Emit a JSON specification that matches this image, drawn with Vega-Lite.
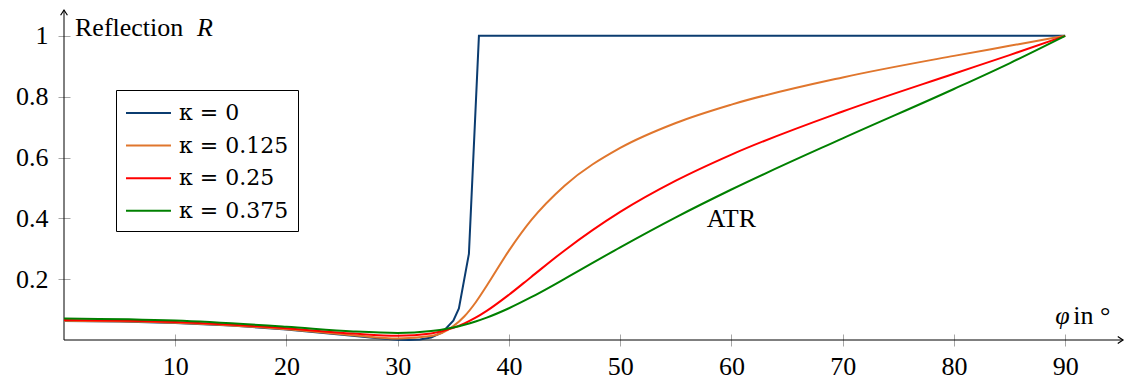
{
  "$schema": "https://vega.github.io/schema/vega-lite/v6.json",
  "width": 1059,
  "height": 330,
  "autosize": {"type": "none"},
  "padding": {"left": 64, "top": 10, "right": 3, "bottom": 43},
  "background": "white",
  "config": {
    "view": {"stroke": null},
    "font": "Liberation Serif"
  },
  "datasets": {
    "curves": [
      {"phi": 0, "R": 0.0625, "k": "κ = 0"},
      {"phi": 5, "R": 0.0609, "k": "κ = 0"},
      {"phi": 10, "R": 0.056, "k": "κ = 0"},
      {"phi": 15, "R": 0.0474, "k": "κ = 0"},
      {"phi": 20, "R": 0.0346, "k": "κ = 0"},
      {"phi": 25, "R": 0.0176, "k": "κ = 0"},
      {"phi": 28, "R": 0.0065, "k": "κ = 0"},
      {"phi": 30, "R": 0.001, "k": "κ = 0"},
      {"phi": 31, "R": 0.0, "k": "κ = 0"},
      {"phi": 32, "R": 0.0017, "k": "κ = 0"},
      {"phi": 33, "R": 0.0082, "k": "κ = 0"},
      {"phi": 34, "R": 0.0246, "k": "κ = 0"},
      {"phi": 35, "R": 0.0636, "k": "κ = 0"},
      {"phi": 35.5, "R": 0.1035, "k": "κ = 0"},
      {"phi": 36.4, "R": 0.2834, "k": "κ = 0"},
      {"phi": 37.3, "R": 1.0, "k": "κ = 0"},
      {"phi": 90, "R": 1.0, "k": "κ = 0"},

      {"phi": 0, "R": 0.0634, "k": "κ = 0.125"},
      {"phi": 10, "R": 0.0569, "k": "κ = 0.125"},
      {"phi": 20, "R": 0.0357, "k": "κ = 0.125"},
      {"phi": 26, "R": 0.0158, "k": "κ = 0.125"},
      {"phi": 30, "R": 0.0051, "k": "κ = 0.125"},
      {"phi": 33, "R": 0.0129, "k": "κ = 0.125"},
      {"phi": 35, "R": 0.0455, "k": "κ = 0.125"},
      {"phi": 36, "R": 0.078, "k": "κ = 0.125"},
      {"phi": 37, "R": 0.1233, "k": "κ = 0.125"},
      {"phi": 38, "R": 0.1782, "k": "κ = 0.125"},
      {"phi": 40, "R": 0.2938, "k": "κ = 0.125"},
      {"phi": 42, "R": 0.3938, "k": "κ = 0.125"},
      {"phi": 45, "R": 0.5071, "k": "κ = 0.125"},
      {"phi": 50, "R": 0.6315, "k": "κ = 0.125"},
      {"phi": 55, "R": 0.7136, "k": "κ = 0.125"},
      {"phi": 60, "R": 0.774, "k": "κ = 0.125"},
      {"phi": 70, "R": 0.8634, "k": "κ = 0.125"},
      {"phi": 80, "R": 0.9342, "k": "κ = 0.125"},
      {"phi": 85, "R": 0.9671, "k": "κ = 0.125"},
      {"phi": 90, "R": 1.0, "k": "κ = 0.125"},

      {"phi": 0, "R": 0.0661, "k": "κ = 0.25"},
      {"phi": 10, "R": 0.0595, "k": "κ = 0.25"},
      {"phi": 20, "R": 0.0387, "k": "κ = 0.25"},
      {"phi": 26, "R": 0.021, "k": "κ = 0.25"},
      {"phi": 30, "R": 0.0138, "k": "κ = 0.25"},
      {"phi": 33, "R": 0.0213, "k": "κ = 0.25"},
      {"phi": 35, "R": 0.0397, "k": "κ = 0.25"},
      {"phi": 36, "R": 0.0545, "k": "κ = 0.25"},
      {"phi": 37, "R": 0.0732, "k": "κ = 0.25"},
      {"phi": 38, "R": 0.0956, "k": "κ = 0.25"},
      {"phi": 40, "R": 0.1488, "k": "κ = 0.25"},
      {"phi": 42, "R": 0.2074, "k": "κ = 0.25"},
      {"phi": 45, "R": 0.2945, "k": "κ = 0.25"},
      {"phi": 50, "R": 0.4211, "k": "κ = 0.25"},
      {"phi": 55, "R": 0.5239, "k": "κ = 0.25"},
      {"phi": 60, "R": 0.6097, "k": "κ = 0.25"},
      {"phi": 70, "R": 0.7513, "k": "κ = 0.25"},
      {"phi": 80, "R": 0.8755, "k": "κ = 0.25"},
      {"phi": 85, "R": 0.9367, "k": "κ = 0.25"},
      {"phi": 90, "R": 1.0, "k": "κ = 0.25"},

      {"phi": 0, "R": 0.0707, "k": "κ = 0.375"},
      {"phi": 10, "R": 0.0639, "k": "κ = 0.375"},
      {"phi": 20, "R": 0.0435, "k": "κ = 0.375"},
      {"phi": 26, "R": 0.0282, "k": "κ = 0.375"},
      {"phi": 30, "R": 0.0234, "k": "κ = 0.375"},
      {"phi": 33, "R": 0.0295, "k": "κ = 0.375"},
      {"phi": 35, "R": 0.0414, "k": "κ = 0.375"},
      {"phi": 36, "R": 0.0502, "k": "κ = 0.375"},
      {"phi": 37, "R": 0.061, "k": "κ = 0.375"},
      {"phi": 38, "R": 0.0737, "k": "κ = 0.375"},
      {"phi": 40, "R": 0.1045, "k": "κ = 0.375"},
      {"phi": 42, "R": 0.1407, "k": "κ = 0.375"},
      {"phi": 45, "R": 0.201, "k": "κ = 0.375"},
      {"phi": 50, "R": 0.3047, "k": "κ = 0.375"},
      {"phi": 55, "R": 0.4033, "k": "κ = 0.375"},
      {"phi": 60, "R": 0.4948, "k": "κ = 0.375"},
      {"phi": 70, "R": 0.663, "k": "κ = 0.375"},
      {"phi": 80, "R": 0.8253, "k": "κ = 0.375"},
      {"phi": 85, "R": 0.9098, "k": "κ = 0.375"},
      {"phi": 90, "R": 1.0, "k": "κ = 0.375"}
    ]
  },
  "layer": [
    {
      "data": {"values": [{}]},
      "mark": {"type": "rule", "color": "black", "strokeWidth": 1},
      "encoding": {
        "y": {"datum": 0, "type": "quantitative", "scale": {"domain": [0, 1.085], "nice": false, "zero": false}}
      }
    },
    {
      "data": {"values": [{}]},
      "mark": {"type": "rule", "color": "black", "strokeWidth": 1},
      "encoding": {
        "x": {"datum": 0, "type": "quantitative", "scale": {"domain": [0, 95.2], "nice": false, "zero": false}}
      }
    },
    {
      "data": {"name": "curves"},
      "transform": [{"filter": "datum.k === 'κ = 0'"}],
      "mark": {"type": "line", "strokeWidth": 2, "interpolate": "linear", "clip": false},
      "encoding": {
        "x": {
          "field": "phi", "type": "quantitative",
          "scale": {"domain": [0, 95.2], "nice": false, "zero": false},
          "axis": {
            "title": null, "values": [10, 20, 30, 40, 50, 60, 70, 80, 90],
            "offset": -6, "tickSize": 12, "tickColor": "#a6a6a6", "tickWidth": 1,
            "domain": false, "grid": false,
            "labelFont": "Liberation Serif", "labelFontSize": 26, "labelColor": "black",
            "labelPadding": 7, "labelFlush": false
          }
        },
        "y": {
          "field": "R", "type": "quantitative",
          "scale": {"domain": [0, 1.085], "nice": false, "zero": false},
          "axis": {
            "title": null, "values": [0.2, 0.4, 0.6, 0.8, 1], "format": "~g",
            "offset": -6, "tickSize": 12, "tickColor": "#a6a6a6", "tickWidth": 1,
            "domain": false, "grid": false,
            "labelFont": "Liberation Serif", "labelFontSize": 26, "labelColor": "black",
            "labelPadding": 10, "labelFlush": false
          }
        },
        "color": {
          "field": "k", "type": "nominal",
          "scale": {
            "domain": ["κ = 0", "κ = 0.125", "κ = 0.25", "κ = 0.375"],
            "range": ["#0b3c70", "#e0762d", "#ff0000", "#008000"]
          },
          "legend": {
            "orient": "none", "legendX": 52, "legendY": 80,
            "title": null, "strokeColor": "black", "fillColor": "white",
            "padding": 9, "symbolType": "M -1 0 L 2.46 0", "symbolSize": 676,
            "symbolStrokeWidth": 2, "symbolFillColor": "transparent",
            "labelFont": "DejaVu Serif", "labelFontSize": 22, "labelColor": "black",
            "labelOffset": 26, "rowPadding": 7.6, "labelLimit": 400, "cornerRadius": 0
          }
        }
      }
    },
    {
      "data": {"name": "curves"},
      "transform": [{"filter": "datum.k !== 'κ = 0'"}],
      "mark": {"type": "line", "strokeWidth": 2, "interpolate": "monotone", "clip": false},
      "encoding": {
        "x": {"field": "phi", "type": "quantitative", "scale": {"domain": [0, 95.2], "nice": false, "zero": false}},
        "y": {"field": "R", "type": "quantitative", "scale": {"domain": [0, 1.085], "nice": false, "zero": false}},
        "color": {"field": "k", "type": "nominal"}
      }
    },
    {
      "data": {"values": [{}]},
      "mark": {"type": "point", "shape": "M -1 -0.65 L 0 0 L -1 0.65", "filled": false, "size": 110, "color": "black", "strokeWidth": 1.2, "opacity": 1},
      "encoding": {
        "x": {"datum": 95.2, "type": "quantitative"},
        "y": {"datum": 0, "type": "quantitative"}
      }
    },
    {
      "data": {"values": [{}]},
      "mark": {"type": "point", "shape": "M -1 -0.65 L 0 0 L -1 0.65", "filled": false, "size": 110, "color": "black", "strokeWidth": 1.2, "opacity": 1, "angle": -90},
      "encoding": {
        "x": {"datum": 0, "type": "quantitative"},
        "y": {"datum": 1.085, "type": "quantitative"}
      }
    },
    {
      "data": {"values": [{}]},
      "mark": {"type": "text", "text": "Reflection", "align": "left", "baseline": "alphabetic", "dx": 11, "font": "Liberation Serif", "fontSize": 26, "color": "black"},
      "encoding": {
        "x": {"datum": 0, "type": "quantitative"},
        "y": {"datum": 1, "type": "quantitative"}
      }
    },
    {
      "data": {"values": [{}]},
      "mark": {"type": "text", "text": "R", "align": "left", "baseline": "alphabetic", "dx": 133, "font": "Liberation Serif", "fontStyle": "italic", "fontSize": 26, "color": "black"},
      "encoding": {
        "x": {"datum": 0, "type": "quantitative"},
        "y": {"datum": 1, "type": "quantitative"}
      }
    },
    {
      "data": {"values": [{}]},
      "mark": {"type": "text", "text": "φ", "align": "left", "baseline": "alphabetic", "dx": -10, "dy": -16, "font": "Liberation Serif", "fontStyle": "italic", "fontSize": 26, "color": "black"},
      "encoding": {
        "x": {"datum": 90, "type": "quantitative"},
        "y": {"datum": 0, "type": "quantitative"}
      }
    },
    {
      "data": {"values": [{}]},
      "mark": {"type": "text", "text": "in °", "align": "left", "baseline": "alphabetic", "dx": 8, "dy": -16, "font": "Liberation Serif", "fontSize": 26, "color": "black"},
      "encoding": {
        "x": {"datum": 90, "type": "quantitative"},
        "y": {"datum": 0, "type": "quantitative"}
      }
    },
    {
      "data": {"values": [{}]},
      "mark": {"type": "text", "text": "ATR", "align": "center", "baseline": "alphabetic", "font": "Liberation Serif", "fontSize": 26, "color": "black"},
      "encoding": {
        "x": {"datum": 60, "type": "quantitative"},
        "y": {"datum": 0.37, "type": "quantitative"}
      }
    }
  ]
}
